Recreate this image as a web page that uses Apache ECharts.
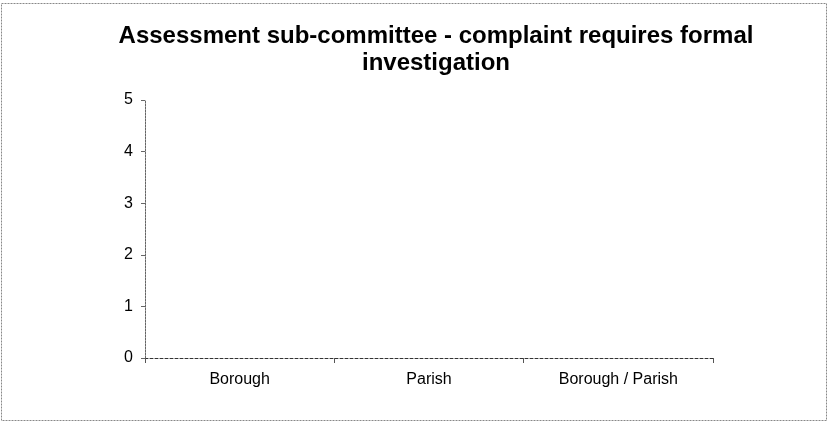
<!DOCTYPE html>
<html>
<head>
<meta charset="utf-8">
<script src="https://cdn.jsdelivr.net/npm/echarts@6/dist/echarts.min.js"></script>
<style>
html,body{margin:0;padding:0;background:#fff;}
#chart{width:828px;height:427px;}
</style>
</head>
<body>
<div id="chart"></div>
<script>
var titleText = 'Assessment sub-committee - complaint requires formal\ninvestigation';
var categories = ['Borough', 'Parish', 'Borough / Parish'];
var values = [0, 0, 0];
var yTicks = [0, 1, 2, 3, 4, 5];

var chart = echarts.init(document.getElementById('chart'), null, {renderer: 'canvas'});
var font = 'Liberation Sans, Arial, sans-serif';
chart.setOption({
  animation: false,
  backgroundColor: '#fff',
  title: {
    text: titleText,
    left: 431,
    top: 18,
    textAlign: 'center',
    textStyle: {fontFamily: font, fontSize: 24, fontWeight: 'bold', color: '#000', lineHeight: 27}
  },
  graphic: [{
    type: 'rect',
    shape: {x: 1.5, y: 3.5, width: 825, height: 417},
    style: {fill: 'none', stroke: '#888', lineWidth: 1, lineDash: [2, 1]},
    silent: true
  }],
  grid: {left: 145, right: 115, top: 100, bottom: 69},
  xAxis: {
    type: 'category',
    data: categories,
    axisLine: {lineStyle: {color: '#333', width: 1, type: [3, 2]}},
    axisTick: {show: true, length: 5, lineStyle: {color: '#555'}},
    axisLabel: {fontFamily: font, fontSize: 16, color: '#000', margin: 14}
  },
  yAxis: {
    type: 'value',
    min: yTicks[0],
    max: yTicks[yTicks.length - 1],
    interval: 1,
    axisLine: {show: true, lineStyle: {color: '#666', width: 1, type: [2, 1]}},
    axisTick: {show: true, length: 4, lineStyle: {color: '#666'}},
    axisLabel: {fontFamily: font, fontSize: 16, color: '#000', margin: 12},
    splitLine: {show: false}
  },
  series: [{
    type: 'bar',
    data: values,
    itemStyle: {color: '#999'}
  }]
});
</script>
</body>
</html>
